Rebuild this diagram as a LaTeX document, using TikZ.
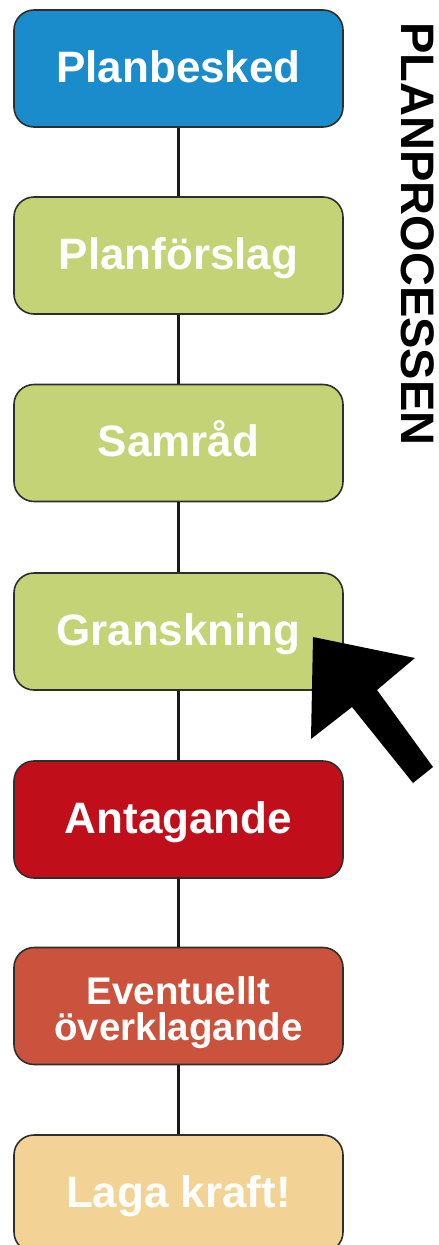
\documentclass[tikz,border=0pt]{standalone}
\usepackage{fontspec}
\setmainfont{Liberation Sans}
\definecolor{cblue}{HTML}{1A8BCB}
\definecolor{cgreen}{HTML}{C3D375}
\definecolor{cred}{HTML}{C10E1B}
\definecolor{corange}{HTML}{CB523C}
\definecolor{ctan}{HTML}{F2D395}
\definecolor{cborder}{HTML}{2E2E2E}
\begin{document}
\begin{tikzpicture}[x=1pt,y=-1pt,
  stepbox/.style={draw=cborder, line width=1.6pt, rounded corners=20pt,
    minimum width=329pt, minimum height=117pt, inner sep=0pt,
    text=white, font=\bfseries\fontsize{44}{44}\selectfont,
    text height=29pt, text depth=2pt},
  link/.style={draw=black!90, line width=2.4pt}]
\clip (0,0) rectangle (439,1245);
\node[stepbox, fill=cblue]   (b1) at (178.5,68.5)  {Planbesked};
\node[stepbox, fill=cgreen]  (b2) at (178.5,255.5) {Planförslag};
\node[stepbox, fill=cgreen]  (b3) at (178.5,443)   {Samråd};
\node[stepbox, fill=cgreen]  (b4) at (178.5,631.5) {Granskning};
\node[stepbox, fill=cred]    (b5) at (178.5,819.5) {Antagande};
\node[stepbox, fill=corange, align=center, font=\bfseries\fontsize{38.5}{36}\selectfont,
      text height=68pt, text depth=0pt] (b6) at (178.5,1006) {Eventuellt\\överklagande};
\node[stepbox, fill=ctan, text=white!97!ctan] (b7) at (178.5,1193.5) {Laga kraft!};
\draw[link] (b1.south) -- (b2.north);
\draw[link] (b2.south) -- (b3.north);
\draw[link] (b3.south) -- (b4.north);
\draw[link] (b4.south) -- (b5.north);
\draw[link] (b5.south) -- (b6.north);
\draw[link] (b6.south) -- (b7.north);
\fill[black] (313,637) -- (415,658) -- (377,690) -- (433,767) -- (413,783)
  -- (352,707) -- (311,739) -- cycle;
\node[rotate=-90, font=\bfseries\fontsize{47}{47}\selectfont, inner sep=0pt] (title) at (418,234) {PLANPROCESSEN};
\end{tikzpicture}
\end{document}
